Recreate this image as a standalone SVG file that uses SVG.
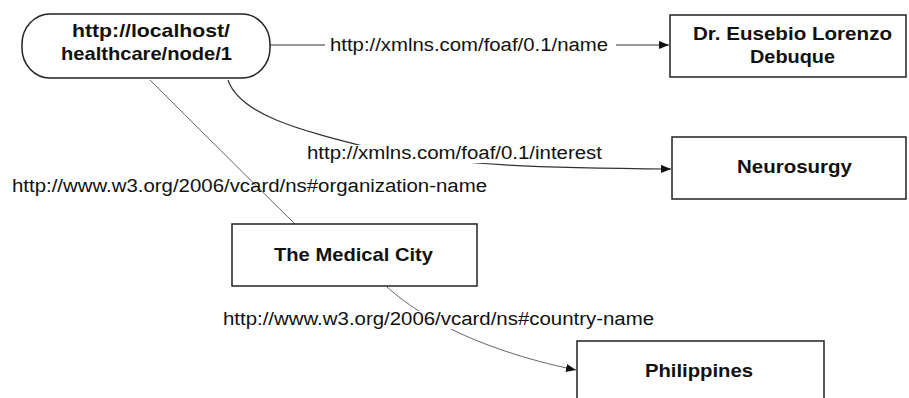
<svg xmlns="http://www.w3.org/2000/svg" width="909" height="398" viewBox="0 0 909 398">
  <style>
    .node { fill: #ffffff; stroke: #222222; stroke-width: 1.5; }
    .ntext { font-family: "Liberation Sans", Arial, sans-serif; font-weight: bold; font-size: 18.5px; fill: #111111; }
    .ltext { font-family: "Liberation Sans", Arial, sans-serif; font-size: 18px; fill: #111111; }
    .edge { fill: none; stroke: #333333; stroke-width: 1.2; }
    .light { stroke: #666666; stroke-width: 1; }
  </style>
  <defs>
    <marker id="arrow" viewBox="0 0 10 8" refX="10" refY="4" markerWidth="10" markerHeight="8" markerUnits="userSpaceOnUse" orient="auto">
      <path d="M0,0 L10,4 L0,8 Z" fill="#111111"/>
    </marker>
  </defs>
  <rect width="909" height="398" fill="#ffffff"/>

  <g id="connectors">
    <path class="edge" d="M270,45 L325,45"/>
    <path class="edge" d="M616,45 L669,45" marker-end="url(#arrow)"/>
    <path class="edge" d="M228,80 C240,115 300,130 370,148 S560,168 671,169" marker-end="url(#arrow)"/>
    <path class="edge light" d="M150,80 Q218,148 295,224"/>
    <path class="edge light" d="M387,287 C415,312 470,348 576,370" marker-end="url(#arrow)"/>
    <g id="edge-labels">
      <rect x="300" y="145" width="304" height="18" fill="#ffffff"/>
      <rect x="220" y="311" width="436" height="18" fill="#ffffff"/>
      <text class="ltext" x="330" y="51" textLength="278" lengthAdjust="spacingAndGlyphs">http://xmlns.com/foaf/0.1/name</text>
      <text class="ltext" x="307" y="159" textLength="295" lengthAdjust="spacingAndGlyphs">http://xmlns.com/foaf/0.1/interest</text>
      <text class="ltext" x="12" y="192" textLength="475" lengthAdjust="spacingAndGlyphs">http://www.w3.org/2006/vcard/ns#organization-name</text>
      <text class="ltext" x="223" y="325" textLength="431" lengthAdjust="spacingAndGlyphs">http://www.w3.org/2006/vcard/ns#country-name</text>
    </g>
  </g>

  <g id="node1">
    <rect class="node" x="22" y="14" width="248" height="64" rx="28" ry="30"/>
    <text class="ntext" x="72" y="37" textLength="158" lengthAdjust="spacingAndGlyphs">http://localhost/</text>
    <text class="ntext" x="61" y="60" textLength="171" lengthAdjust="spacingAndGlyphs">healthcare/node/1</text>
  </g>

  <g id="name">
    <rect class="node" x="670" y="15" width="236" height="62"/>
    <text class="ntext" x="693" y="40" textLength="199" lengthAdjust="spacingAndGlyphs">Dr. Eusebio Lorenzo</text>
    <text class="ntext" x="750" y="63" textLength="85" lengthAdjust="spacingAndGlyphs">Debuque</text>
  </g>

  <g id="interest">
    <rect class="node" x="672" y="137" width="234" height="62"/>
    <text class="ntext" x="737" y="173" textLength="115" lengthAdjust="spacingAndGlyphs">Neurosurgy</text>
  </g>

  <g id="organization">
    <rect class="node" x="232" y="224" width="245" height="62"/>
    <text class="ntext" x="274" y="261" textLength="159" lengthAdjust="spacingAndGlyphs">The Medical City</text>
  </g>

  <g id="country">
    <rect class="node" x="577" y="341" width="247" height="70"/>
    <text class="ntext" x="645" y="377" textLength="108" lengthAdjust="spacingAndGlyphs">Philippines</text>
  </g>
</svg>
